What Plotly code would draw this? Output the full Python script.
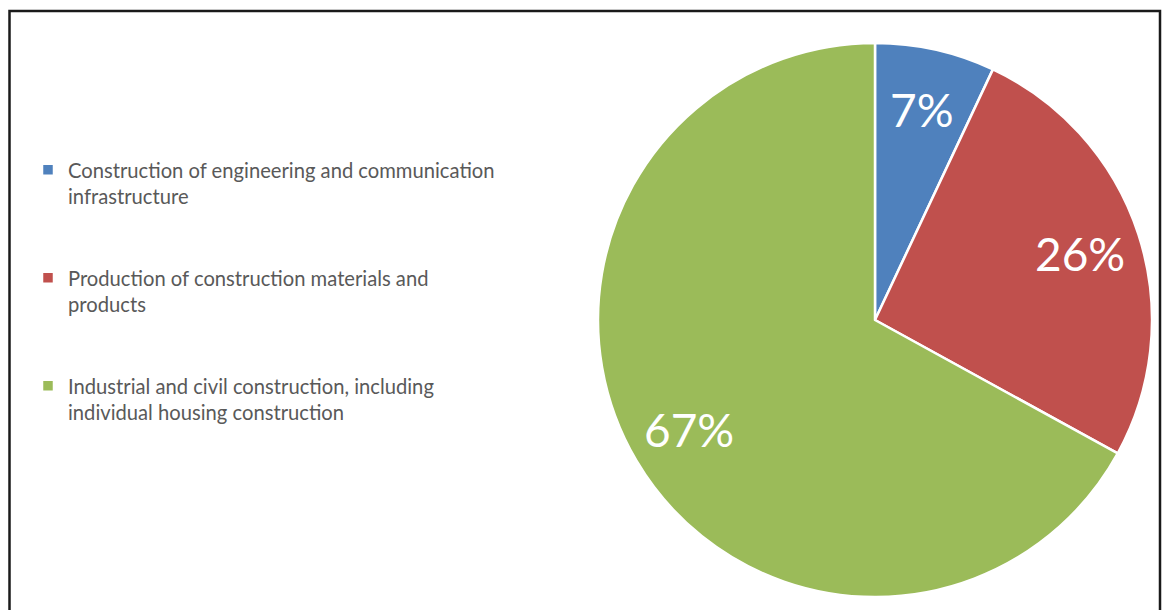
import math
import plotly.graph_objects as go

# Share of each construction sector
legend_labels = [
    "Construction of engineering and communication<br>infrastructure",
    "Production of construction materials and<br>products",
    "Industrial and civil construction, including<br>individual housing construction",
]
shares = [7, 26, 67]
colors = ["#4F81BD", "#C0504D", "#9BBB59"]

W, H = 1165, 610
cx, cy, R = 875, 320, 277  # pie centre / radius in pixels
FONT = "Lato, Open Sans, sans-serif"

# pad each legend entry with blank lines to space the items apart
padded = [lab + "<br> <br> " for lab in legend_labels]

fig = go.Figure(
    go.Pie(
        labels=padded,
        values=shares,
        sort=False,
        direction="clockwise",
        rotation=0,
        marker=dict(colors=colors, line=dict(color="white", width=2.5)),
        textinfo="none",
        hoverinfo="percent",
        domain=dict(x=[(cx - R) / W, (cx + R) / W],
                    y=[1 - (cy + R) / H, 1 - (cy - R) / H]),
    )
)

# percentage labels placed along each slice's mid-angle
total = sum(shares)
cum = 0
for v in shares:
    mid = (cum + v / 2) / total * 2 * math.pi
    cum += v
    r = 0.78 * R
    px = cx + r * math.sin(mid)
    py = cy - r * math.cos(mid)
    fig.add_annotation(
        x=px / W, y=1 - py / H, xref="paper", yref="paper",
        xanchor="center", yanchor="middle",
        text=f"{round(v / total * 100)}%", showarrow=False,
        font=dict(family=FONT, size=46, color="white"),
    )

# chart frame
fig.add_shape(type="rect", xref="paper", yref="paper",
              x0=9.5 / W, x1=1160 / W, y0=-0.05, y1=1 - 11 / H,
              line=dict(color="#1a1a1a", width=2.5), fillcolor="rgba(0,0,0,0)")

fig.update_layout(
    width=W, height=H,
    margin=dict(l=0, r=0, t=0, b=0),
    paper_bgcolor="white",
    plot_bgcolor="white",
    showlegend=True,
    legend=dict(
        x=28 / W, y=1 - 150 / H, xanchor="left", yanchor="top",
        valign="top",
        font=dict(family=FONT, size=20.2, color="#595959"),
        bgcolor="rgba(0,0,0,0)",
        itemclick=False,
    ),
)

fig.write_html("out.html")
